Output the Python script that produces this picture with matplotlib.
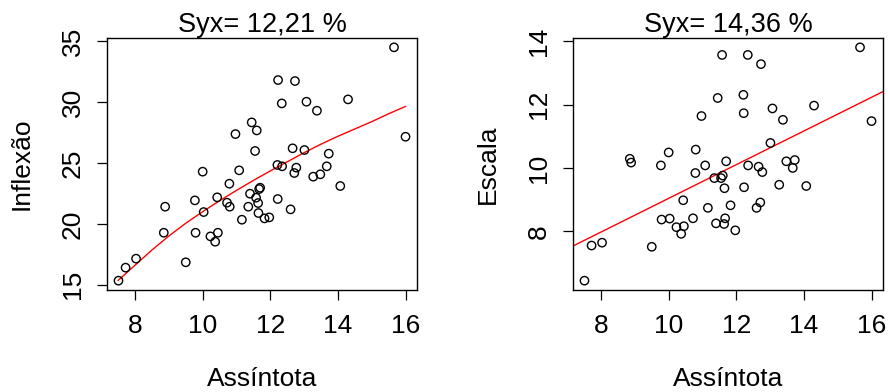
import numpy as np
import matplotlib
matplotlib.use("Agg")
import matplotlib.pyplot as plt

plt.rcParams["font.family"] = ["Liberation Sans", "DejaVu Sans"]

# --- data ---
assintota = [7.51, 7.72, 8.03, 8.85, 8.89, 9.50, 9.77, 9.79, 10.00, 10.03,
             10.23, 10.37, 10.43, 10.45, 10.72, 10.79, 10.80, 10.97, 11.08, 11.16,
             11.35, 11.40, 11.45, 11.55, 11.58, 11.60, 11.64, 11.65, 11.67, 11.70,
             11.83, 11.97, 12.21, 12.22, 12.23, 12.34, 12.35, 12.60, 12.66, 12.71,
             12.73, 12.77, 13.01, 13.07, 13.27, 13.38, 13.48, 13.67, 13.73, 14.07,
             14.30, 15.66, 16.00]
inflexao = [15.33, 16.40, 17.14, 19.27, 21.41, 16.84, 21.93, 19.27, 24.29, 20.97,
            18.97, 18.53, 22.18, 19.27, 21.74, 23.30, 21.41, 27.38, 24.40, 20.34,
            21.41, 22.48, 28.34, 25.99, 22.15, 27.68, 21.71, 20.89, 22.86, 22.97,
            20.45, 20.53, 24.84, 22.04, 31.82, 29.90, 24.73, 21.19, 26.21, 24.18,
            31.74, 24.62, 26.07, 30.04, 23.88, 29.30, 24.07, 24.73, 25.77, 23.11,
            30.23, 34.51, 27.16]
escala = [6.44, 7.55, 7.64, 10.29, 10.17, 7.51, 10.08, 8.37, 10.49, 8.40,
          8.13, 7.92, 8.98, 8.16, 8.41, 9.84, 10.58, 11.64, 10.08, 8.74,
          9.68, 8.25, 12.21, 9.68, 13.57, 9.76, 8.23, 9.36, 8.41, 10.21,
          8.82, 8.03, 12.31, 11.73, 9.39, 13.57, 10.08, 8.74, 10.04, 8.91,
          13.28, 9.87, 10.79, 11.88, 9.47, 11.52, 10.21, 10.00, 10.25, 9.43,
          11.97, 13.81, 11.48]

# fitted curve for Inflexao
fit_x = [7.5, 8.0, 8.5, 9.0, 9.5, 10.0, 10.5, 11.0, 11.5, 12.0,
         12.5, 13.0, 13.5, 14.0, 14.5, 15.0, 15.5, 16.0]
fit_inflexao = [15.35, 16.6, 17.85, 19.0, 20.05, 21.0, 21.9, 22.75, 23.57, 24.35,
                25.1, 25.85, 26.55, 27.2, 27.8, 28.4, 29.05, 29.65]

# straight fit for Escala (intercept, slope)
esc_intercept = 3.72
esc_slope = 0.532

titles = ["Syx= 12,21 %", "Syx= 14,36 %"]
xticks = [8, 10, 12, 14, 16]
yticks_inf = [15, 20, 25, 30, 35]
yticks_esc = [8, 10, 12, 14]

FS = 19
W, H = 888, 392
fig = plt.figure(figsize=(W / 100, H / 100), dpi=100)


def r_limits(v):
    # R style: data range extended by 4 % each side
    lo, hi = min(v), max(v)
    d = (hi - lo) * 0.04
    return lo - d, hi + d


def panel(left_px, y, ylabel, title, yticks):
    ax = fig.add_axes([left_px / W, (H - 290) / H, 310 / W, 252 / H])
    ax.scatter(assintota, y, s=36, facecolors="none", edgecolors="black", linewidths=1.0, zorder=3)
    ax.set_xlim(r_limits(assintota))
    ax.set_ylim(r_limits(y))
    ax.set_xticks(xticks)
    ax.set_yticks(yticks)
    ax.tick_params(labelsize=FS, length=7, width=0.9, color="black")
    ax.tick_params(axis="x", pad=10)
    ax.tick_params(axis="y", pad=9)
    for lab in ax.get_yticklabels():
        lab.set_rotation(90)
        lab.set_va("center")
    for sp in ax.spines.values():
        sp.set_linewidth(1.0)
    ax.set_title(title, fontsize=19.5, pad=3)
    ax.set_xlabel("Assíntota", fontsize=FS, va="baseline")
    ax.xaxis.set_label_coords(0.5, (290 - 386) / 252)
    ax.set_ylabel(ylabel, fontsize=FS, va="center")
    ax.yaxis.set_label_coords((22 - left_px) / 310, 0.5)
    return ax


ax1 = panel(107, inflexao, "Inflexão", titles[0], yticks_inf)
ax1.plot(fit_x, fit_inflexao, color="red", linewidth=1.0)

ax2 = panel(573, escala, "Escala", titles[1], yticks_esc)
ax2.yaxis.set_label_coords((488 - 573) / 310, 0.5)
ax2.axline((0, esc_intercept), slope=esc_slope, color="red", linewidth=1.0)

fig.savefig("out.png", dpi=100)
